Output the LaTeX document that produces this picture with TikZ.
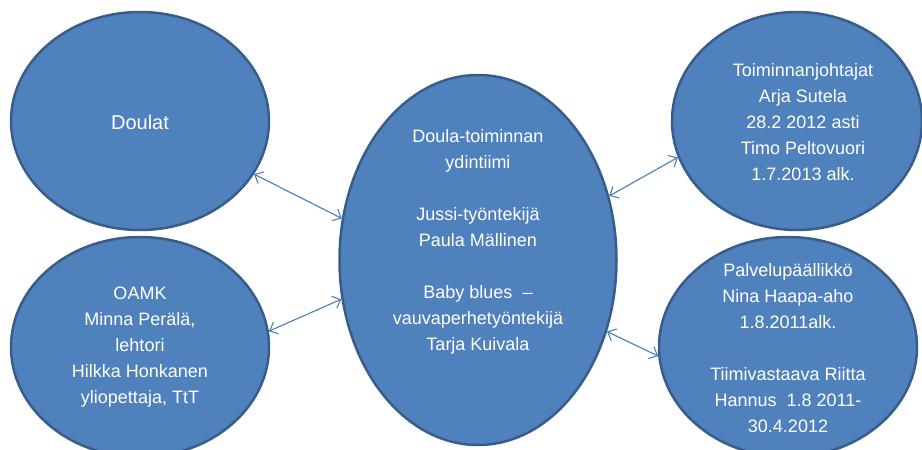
\documentclass[tikz,border=0pt]{standalone}
\usepackage{fontspec}
\setmainfont{Liberation Sans}
\usetikzlibrary{arrows.meta, shapes.geometric}
\definecolor{bubblefill}{HTML}{4F81BD}
\definecolor{bubbleline}{HTML}{385D8A}
\definecolor{linkline}{HTML}{4A7EBB}

\begin{document}
\begin{tikzpicture}[x=1pt, y=-1pt,
    bubble/.style={
        ellipse, draw=bubbleline, fill=bubblefill,
        line width=2.5pt, inner sep=0pt
    },
    caption/.style={
        text=white, align=center,
        font=\fontsize{18}{26}\selectfont
    },
    link/.style={
        {Straight Barb[length=7pt,width=13pt]}-{Straight Barb[length=7pt,width=13pt]},
        draw=linkline, line width=1.1pt
    },
]
\useasboundingbox (0,0) rectangle (922,450);

% Bubbles
\node[bubble, minimum width=258pt, minimum height=218pt] (doulat) at (140,121) {};
\node[bubble, minimum width=258pt, minimum height=220pt] (oamk) at (140,347) {};
\node[bubble, minimum width=277pt, minimum height=370pt] (core) at (478,260) {};
\node[bubble, minimum width=250pt, minimum height=218pt] (johto) at (797,121) {};
\node[bubble, minimum width=258pt, minimum height=220pt] (palvelu) at (788,347) {};

% Texts
\node[caption, font=\fontsize{20}{26}\selectfont] (doulattxt) at (140,122) {Doulat};

\node[caption] (oamktxt) at (140,347) {%
    OAMK\\
    Minna Perälä,\\
    lehtori\\
    Hilkka Honkanen\\
    yliopettaja, TtT
};

\node[caption] (coretxt) at (478,242) {%
    Doula-toiminnan\\
    ydintiimi\\[26pt]
    Jussi-työntekijä\\
    Paula Mällinen\\[26pt]
    Baby blues\ \ –\\
    vauvaperhetyöntekijä\\
    Tarja Kuivala
};

\node[caption] (johtotxt) at (803,122) {%
    Toiminnanjohtajat\\
    Arja Sutela\\
    28.2 2012 asti\\
    Timo Peltovuori\\
    1.7.2013 alk.
};

\node[caption] (palvelutxt) at (788,348) {%
    Palvelupäällikkö\\
    Nina Haapa-aho\\
    1.8.2011alk.\\[26pt]
    Tiimivastaava Riitta\\
    Hannus\ \ 1.8 2011-\\
    30.4.2012
};

% Links
\draw[link] (doulat.-25) -- (core.163);
\draw[link] (oamk.7) -- (core.196);
\draw[link] (core.26) -- (johto.197);
\draw[link] (core.-29) -- (palvelu.184);

\end{tikzpicture}
\end{document}
